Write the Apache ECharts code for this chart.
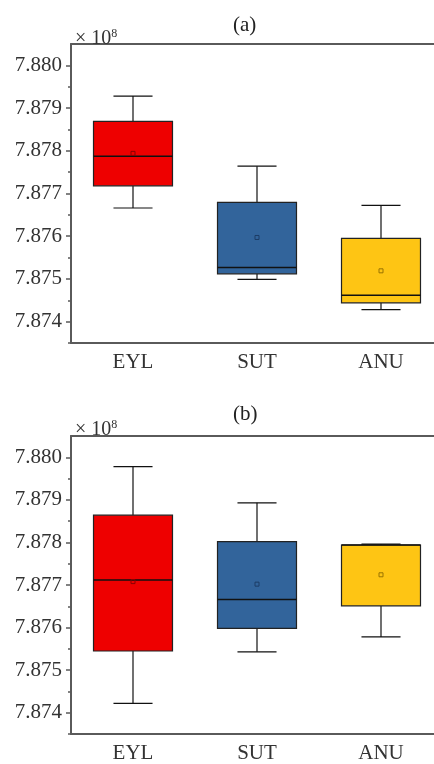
<!DOCTYPE html>
<html>
<head>
<meta charset="utf-8">
<script src="https://cdn.jsdelivr.net/npm/echarts@6/dist/echarts.min.js"></script>
<style>
html,body{margin:0;padding:0;background:#fff;}
#chart{width:434px;height:764px;}
</style>
</head>
<body>
<div id="chart"></div>
<script>
// ---- data ----
const categories = ['EYL', 'SUT', 'ANU'];
const colors = ['#EE0000', '#32649B', '#FEC514'];
const meanColors = ['#8a0000', '#1d3d66', '#9a7400'];

// Panel (a)
const aLow    = [7.87666, 7.87499, 7.87428];
const aQ1     = [7.87718, 7.87512, 7.87444];
const aMedian = [7.87787, 7.87527, 7.87462];
const aQ3     = [7.87869, 7.87679, 7.87595];
const aHigh   = [7.87928, 7.87764, 7.87672];
const aMean   = [7.87794, 7.87597, 7.87519];

// Panel (b)
const bLow    = [7.87422, 7.87543, 7.87578];
const bQ1     = [7.87545, 7.87598, 7.87651];
const bMedian = [7.87712, 7.87666, 7.87794];
const bQ3     = [7.87864, 7.87802, 7.87794];
const bHigh   = [7.87978, 7.87893, 7.87796];
const bMean   = [7.87708, 7.87702, 7.87724];

const majorTicks = [7.874, 7.875, 7.876, 7.877, 7.878, 7.879, 7.880];
const minorTicks = [7.8735, 7.8745, 7.8755, 7.8765, 7.8775, 7.8785, 7.8795];
const yMin = 7.8735, yMax = 7.8805;

function build(low, q1, med, q3, high, mean) {
  return categories.map((c, i) => [i, low[i], q1[i], med[i], q3[i], high[i], mean[i]]);
}

const FONT = 'Liberation Serif';
const AXIS_COLOR = '#5a5a5a';

function renderBox(params, api) {
  const cat = api.value(0);
  const pLow = api.coord([cat, api.value(1)]);
  const pQ1 = api.coord([cat, api.value(2)]);
  const pMed = api.coord([cat, api.value(3)]);
  const pQ3 = api.coord([cat, api.value(4)]);
  const pHigh = api.coord([cat, api.value(5)]);
  const pMean = api.coord([cat, api.value(6)]);
  const band = api.size([1, 0])[0];
  const bw = band * 0.637;
  const cw = band * 0.315;
  const x = pLow[0];
  const lineStyle = {stroke: '#111', lineWidth: 1.2};
  const idx = params.dataIndex;
  return {
    type: 'group',
    children: [
      {type: 'line', shape: {x1: x, y1: pHigh[1], x2: x, y2: pQ3[1]}, style: lineStyle},
      {type: 'line', shape: {x1: x, y1: pLow[1], x2: x, y2: pQ1[1]}, style: lineStyle},
      {type: 'rect', shape: {x: x - bw / 2, y: pQ3[1], width: bw, height: pQ1[1] - pQ3[1]},
        style: {fill: colors[idx], stroke: '#222', lineWidth: 1.2}},
      {type: 'line', shape: {x1: x - bw / 2, y1: pMed[1], x2: x + bw / 2, y2: pMed[1]},
        style: {stroke: '#111', lineWidth: 1.5}},
      {type: 'line', shape: {x1: x - cw / 2, y1: pHigh[1], x2: x + cw / 2, y2: pHigh[1]}, style: lineStyle},
      {type: 'line', shape: {x1: x - cw / 2, y1: pLow[1], x2: x + cw / 2, y2: pLow[1]}, style: lineStyle},
      {type: 'rect', shape: {x: x - 2, y: pMean[1] - 2, width: 4, height: 4},
        style: {fill: 'none', stroke: meanColors[idx], lineWidth: 1}}
    ]
  };
}

const grids = [
  {left: 71, top: 44, width: 372, height: 299, outerBoundsMode: 'none', containLabel: false},
  {left: 71, top: 436, width: 372, height: 298, outerBoundsMode: 'none', containLabel: false}
];

function xAxisFor(g) {
  return {
    type: 'category', gridIndex: g, data: categories, boundaryGap: true,
    axisLine: {lineStyle: {color: AXIS_COLOR, width: 2}},
    axisTick: {alignWithLabel: true, length: 5, lineStyle: {color: AXIS_COLOR, width: 1.5}},
    axisLabel: {fontFamily: FONT, fontSize: 21, color: '#333', margin: 9},
    splitLine: {show: false}
  };
}
function xTop(g) {
  return {
    type: 'category', gridIndex: g, data: categories, position: 'top',
    axisLine: {show: true, lineStyle: {color: AXIS_COLOR, width: 2}},
    axisTick: {show: false}, axisLabel: {show: false}, splitLine: {show: false}
  };
}
function yMajor(g) {
  return {
    type: 'value', gridIndex: g, min: yMin, max: yMax,
    axisLine: {show: true, lineStyle: {color: AXIS_COLOR, width: 2}},
    axisTick: {show: true, length: 5, customValues: majorTicks, lineStyle: {color: AXIS_COLOR, width: 1.5}},
    axisLabel: {fontFamily: FONT, fontSize: 21, color: '#333', margin: 9, customValues: majorTicks,
      formatter: v => Number(v).toFixed(3)},
    splitLine: {show: false}
  };
}
function yMinor(g) {
  return {
    type: 'value', gridIndex: g, min: yMin, max: yMax, position: 'left',
    axisLine: {show: false},
    axisTick: {show: true, length: 3, customValues: minorTicks, lineStyle: {color: AXIS_COLOR, width: 1.5}},
    axisLabel: {show: false},
    splitLine: {show: false}
  };
}

const chart = echarts.init(document.getElementById('chart'), null, {renderer: 'canvas'});
chart.setOption({
  backgroundColor: '#fff',
  animation: false,
  title: [
    {text: '(a)', left: 228, top: 10, textStyle: {fontFamily: FONT, fontSize: 21, fontWeight: 'normal', color: '#222'}},
    {text: '(b)', left: 228, top: 399, textStyle: {fontFamily: FONT, fontSize: 21, fontWeight: 'normal', color: '#222'}},
    {text: '× 10{sup|8}', left: 70, top: 23, textStyle: {fontFamily: FONT, fontSize: 20, fontWeight: 'normal', color: '#333',
      rich: {sup: {fontFamily: FONT, fontSize: 12, color: '#333', verticalAlign: 'top', padding: [0, 0, 10, 0]}}}},
    {text: '× 10{sup|8}', left: 70, top: 414, textStyle: {fontFamily: FONT, fontSize: 20, fontWeight: 'normal', color: '#333',
      rich: {sup: {fontFamily: FONT, fontSize: 12, color: '#333', verticalAlign: 'top', padding: [0, 0, 10, 0]}}}}
  ],
  grid: grids,
  xAxis: [xAxisFor(0), xAxisFor(1), xTop(0), xTop(1)],
  yAxis: [yMajor(0), yMinor(0), yMajor(1), yMinor(1)],
  series: [
    {type: 'custom', xAxisIndex: 0, yAxisIndex: 0, renderItem: renderBox,
      encode: {x: 0, y: [1, 2, 3, 4, 5, 6]}, data: build(aLow, aQ1, aMedian, aQ3, aHigh, aMean)},
    {type: 'custom', xAxisIndex: 1, yAxisIndex: 2, renderItem: renderBox,
      encode: {x: 0, y: [1, 2, 3, 4, 5, 6]}, data: build(bLow, bQ1, bMedian, bQ3, bHigh, bMean)}
  ]
});
</script>
</body>
</html>
